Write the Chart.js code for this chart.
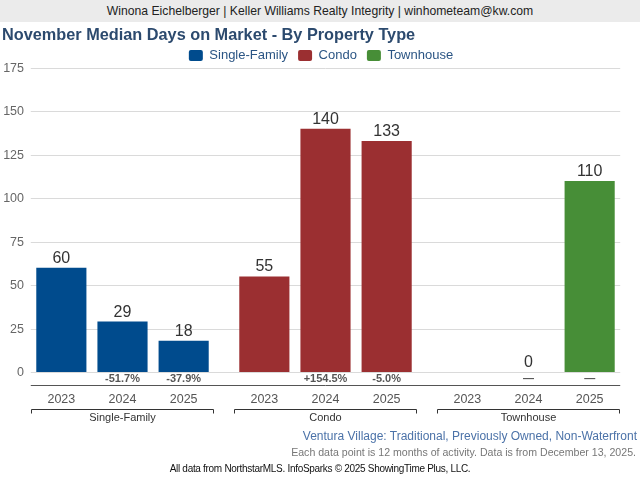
<!DOCTYPE html>
<html>
<head>
<meta charset="utf-8">
<script src="https://cdn.jsdelivr.net/npm/chart.js@4.4.1/dist/chart.umd.min.js"></script>
<style>
  body { margin: 0; width: 640px; height: 480px; overflow: hidden; background: #fff; font-family: "Liberation Sans", Arial, sans-serif; }
  #wrap { position: relative; width: 640px; height: 480px; }
  #chart { position: absolute; left: 0; top: 0; }
  .txt { position: absolute; white-space: nowrap; }
  #header { left: 0; top: 0; width: 640px; height: 22px; line-height: 22px; background: #ebebeb; text-align: center; font-size: 12.2px; color: #222; }
  #title { left: 2px; top: 25px; font-size: 16.3px; font-weight: bold; color: #2c4a6e; }
  #area { right: 3px; top: 429px; font-size: 12px; color: #4b72a8; }
  #note { right: 4px; top: 446px; font-size: 10.6px; color: #777; }
  #credit { left: 0; width: 640px; top: 463px; text-align: center; font-size: 10px; color: #111; letter-spacing: -0.3px; }
</style>
</head>
<body>
<div id="wrap">
  <canvas id="chart" width="640" height="480"></canvas>
  <div class="txt" id="header">Winona Eichelberger | Keller Williams Realty Integrity | winhometeam@kw.com</div>
  <div class="txt" id="title">November Median Days on Market - By Property Type</div>
  <div class="txt" id="area">Ventura Village: Traditional, Previously Owned, Non-Waterfront</div>
  <div class="txt" id="note">Each data point is 12 months of activity. Data is from December 13, 2025.</div>
  <div class="txt" id="credit">All data from NorthstarMLS. InfoSparks © 2025 ShowingTime Plus, LLC.</div>
</div>
<script>
// property types and years
var types = ['Single-Family', 'Condo', 'Townhouse'];
var years = ['2023', '2024', '2025'];
var typeColors = ['#004b8d', '#9b2f31', '#478e37'];

// median days on market, per type, by year
var singleFamily = [60, 29, 18];
var condo = [55, 140, 133];
var townhouse = [null, 0, 110];

// change vs prior year
var singleFamilyChg = ['', '-51.7%', '-37.9%'];
var condoChg = ['', '+154.5%', '-5.0%'];
var townhouseChg = ['', '\u2014', '\u2014'];

var yTicks = [0, 25, 50, 75, 100, 125, 150, 175];

var byType = [singleFamily, condo, townhouse];
var chgByType = [singleFamilyChg, condoChg, townhouseChg];

var FONT = '"Liberation Sans", Arial, sans-serif';
var catPct = 0.9037;

// one dataset per year, bars coloured by property type
var datasets = years.map(function (yr, i) {
    return {
        label: yr,
        data: byType.map(function (arr) { return arr[i]; }),
        backgroundColor: typeColors,
        borderWidth: 0,
        categoryPercentage: catPct,
        barPercentage: 0.82
    };
});

var extras = {
    id: 'extras',
    beforeDatasetsDraw: function (chart) {
        var ctx = chart.ctx, x = chart.scales.x, y = chart.scales.y;
        var groupW = (x.width / types.length) * catPct;
        var x0 = x.getPixelForValue(0) - groupW / 2;
        var x1 = x.getPixelForValue(types.length - 1) + groupW / 2;
        ctx.save();
        ctx.strokeStyle = '#dadada';
        ctx.lineWidth = 1;
        ctx.fillStyle = '#666';
        ctx.font = '12.5px ' + FONT;
        ctx.textAlign = 'right';
        ctx.textBaseline = 'middle';
        yTicks.forEach(function (t) {
            var py = Math.round(y.getPixelForValue(t)) + 0.5;
            ctx.beginPath(); ctx.moveTo(x0, py); ctx.lineTo(x1, py); ctx.stroke();
            ctx.fillText(String(t), 24, py);
        });
        ctx.restore();
    },
    afterDatasetsDraw: function (chart) {
        var ctx = chart.ctx, x = chart.scales.x, y = chart.scales.y;
        var groupW = (x.width / types.length) * catPct;
        var base = y.getPixelForValue(0);
        ctx.save();
        ctx.textAlign = 'center';

        // value labels above bars, change labels and year labels below
        years.forEach(function (yr, i) {
            var meta = chart.getDatasetMeta(i);
            meta.data.forEach(function (bar, j) {
                var v = byType[j][i];
                if (v !== null) {
                    ctx.fillStyle = '#333';
                    ctx.font = '16px ' + FONT;
                    ctx.textBaseline = 'alphabetic';
                    ctx.fillText(String(v), bar.x, bar.y - 5);
                }
                var c = chgByType[j][i];
                if (c) {
                    ctx.fillStyle = '#555';
                    ctx.font = 'bold 11px ' + FONT;
                    ctx.textBaseline = 'middle';
                    ctx.fillText(c, bar.x, base + 7);
                }
                ctx.fillStyle = '#555';
                ctx.font = '12.5px ' + FONT;
                ctx.textBaseline = 'middle';
                ctx.fillText(yr, bar.x, base + 28);
            });
        });

        // axis line
        var x0 = x.getPixelForValue(0) - groupW / 2;
        var x1 = x.getPixelForValue(types.length - 1) + groupW / 2;
        ctx.strokeStyle = '#555';
        ctx.lineWidth = 1;
        ctx.beginPath();
        ctx.moveTo(x0, Math.round(base + 13) + 0.5);
        ctx.lineTo(x1, Math.round(base + 13) + 0.5);
        ctx.stroke();

        // group brackets and names
        types.forEach(function (t, j) {
            var cx = x.getPixelForValue(j);
            var l = Math.round(cx - groupW / 2) + 0.5, r = Math.round(cx + groupW / 2) - 0.5;
            var by = Math.round(base + 37) + 0.5;
            ctx.strokeStyle = '#333';
            ctx.beginPath();
            ctx.moveTo(l, by + 4); ctx.lineTo(l, by); ctx.lineTo(r, by); ctx.lineTo(r, by + 4);
            ctx.stroke();
            ctx.fillStyle = '#333';
            ctx.font = '11px ' + FONT;
            ctx.textBaseline = 'middle';
            ctx.fillText(t, cx, base + 46);
        });
        ctx.restore();
    }
};

new Chart(document.getElementById('chart').getContext('2d'), {
    type: 'bar',
    data: { labels: types, datasets: datasets },
    options: {
        responsive: false,
        animation: false,
        layout: { padding: { top: 39, right: 10, bottom: 108, left: 12 } },
        plugins: {
            tooltip: { enabled: false },
            legend: {
                position: 'top',
                maxHeight: 29,
                labels: {
                    boxWidth: 14,
                    boxHeight: 11,
                    padding: 10,
                    color: '#2b5584',
                    font: { family: FONT, size: 13 },
                    generateLabels: function () {
                        return types.map(function (t, j) {
                            return { text: t, fillStyle: typeColors[j], strokeStyle: typeColors[j], lineWidth: 0, borderRadius: 2, fontColor: '#2b5584' };
                        });
                    }
                },
                onClick: function () {}
            }
        },
        scales: {
            x: { display: false, offset: true, grid: { display: false } },
            y: {
                min: 0, max: 175,
                afterFit: function (s) { s.width = 9; },
                grid: { display: false, drawTicks: false },
                border: { display: false },
                ticks: { display: false, stepSize: 25 }
            }
        }
    },
    plugins: [extras]
});
</script>
</body>
</html>
